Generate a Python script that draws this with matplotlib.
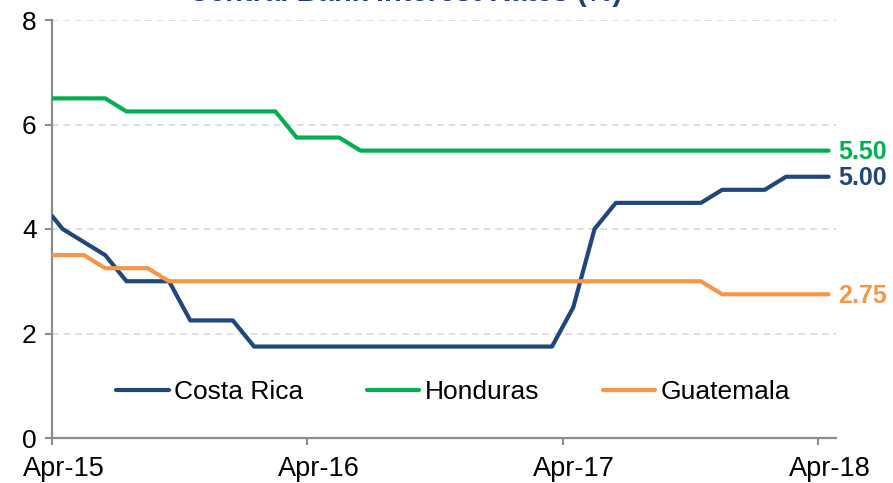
import matplotlib.pyplot as plt

plt.rcParams['font.family'] = ['Liberation Sans', 'DejaVu Sans']

# months after Apr-15 (points sit mid-month)
months = [0, 0.5, 1.5, 2.5, 3.5, 4.5, 5.5, 6.5, 7.5, 8.5, 9.5,
          10.5, 11.5, 12.5, 13.5, 14.5, 15.5, 16.5, 17.5, 18.5, 19.5,
          20.5, 21.5, 22.5, 23.5, 24.5, 25.5, 26.5, 27.5, 28.5, 29.5,
          30.5, 31.5, 32.5, 33.5, 34.5, 35.5, 36.5]

costa_rica = [4.25, 4.0, 3.75, 3.5, 3.0, 3.0, 3.0, 2.25, 2.25, 2.25, 1.75,
              1.75, 1.75, 1.75, 1.75, 1.75, 1.75, 1.75, 1.75, 1.75, 1.75,
              1.75, 1.75, 1.75, 1.75, 2.5, 4.0, 4.5, 4.5, 4.5, 4.5,
              4.5, 4.75, 4.75, 4.75, 5.0, 5.0, 5.0]
honduras = [6.5, 6.5, 6.5, 6.5, 6.25, 6.25, 6.25, 6.25, 6.25, 6.25, 6.25,
            6.25, 5.75, 5.75, 5.75, 5.5, 5.5, 5.5, 5.5, 5.5, 5.5,
            5.5, 5.5, 5.5, 5.5, 5.5, 5.5, 5.5, 5.5, 5.5, 5.5,
            5.5, 5.5, 5.5, 5.5, 5.5, 5.5, 5.5]
guatemala = [3.5, 3.5, 3.5, 3.25, 3.25, 3.25, 3.0, 3.0, 3.0, 3.0, 3.0,
             3.0, 3.0, 3.0, 3.0, 3.0, 3.0, 3.0, 3.0, 3.0, 3.0,
             3.0, 3.0, 3.0, 3.0, 3.0, 3.0, 3.0, 3.0, 3.0, 3.0,
             3.0, 2.75, 2.75, 2.75, 2.75, 2.75, 2.75]

tick_pos = [0, 12, 24, 36]
label_pos = [0.55, 12.55, 24.55, 36.55]
tick_labels = ['Apr-15', 'Apr-16', 'Apr-17', 'Apr-18']

navy = '#1F477B'
green = '#00B050'
orange = '#F79646'
gray = '#8C8C8C'

fig = plt.figure(figsize=(8.93, 4.83), dpi=100)
ax = fig.add_axes([52 / 893, 45 / 483, (836 - 52) / 893, (438 - 20) / 483])

series = [('Costa Rica', costa_rica, navy),
          ('Honduras', honduras, green),
          ('Guatemala', guatemala, orange)]
for name, vals, col in series:
    ax.plot(months, vals, color=col, lw=3, label=name, solid_capstyle='round', zorder=3)
    ax.annotate(f'{vals[-1]:.2f}', xy=(months[-1], vals[-1]), xytext=(7, -1),
                textcoords='offset points', va='center', ha='left',
                fontsize=18, fontweight='bold', color=col, annotation_clip=False)

ax.set_xlim(0, 36.85)
ax.set_ylim(0, 8)
ax.set_yticks([0, 2, 4, 6, 8])
ax.set_xticks(tick_pos)
ax.set_xticklabels([])
ax.set_xticks(label_pos, minor=True)
ax.set_xticklabels(tick_labels, minor=True)

ax.grid(axis='y', color='#D9D9D9', linestyle=(0, (4, 3)), lw=1.2)
ax.set_axisbelow(True)
for s in ['top', 'right']:
    ax.spines[s].set_visible(False)
for s in ['left', 'bottom']:
    ax.spines[s].set_color(gray)
    ax.spines[s].set_linewidth(1.6)
ax.tick_params(axis='both', direction='out', length=5, width=1.5, color=gray,
               labelsize=19, labelcolor='black')
ax.tick_params(axis='y', pad=6)
ax.tick_params(axis='x', which='minor', length=0, pad=13, labelsize=19.5)

ax.legend(loc='center left', bbox_to_anchor=(64 / 784, 0.11), ncol=3, frameon=False,
          fontsize=19, handlelength=2.0, handletextpad=0.2, columnspacing=2.4,
          borderpad=0, borderaxespad=0)

# title sits mostly above the picture's top edge, as in the source
fig.text(405 / 893, 1 - 1.4 / 483, 'Central Bank Interest Rates (%)', ha='center', va='baseline',
         fontsize=21, fontweight='bold', color='#1F3F74')

fig.savefig('out.png', dpi=100)
